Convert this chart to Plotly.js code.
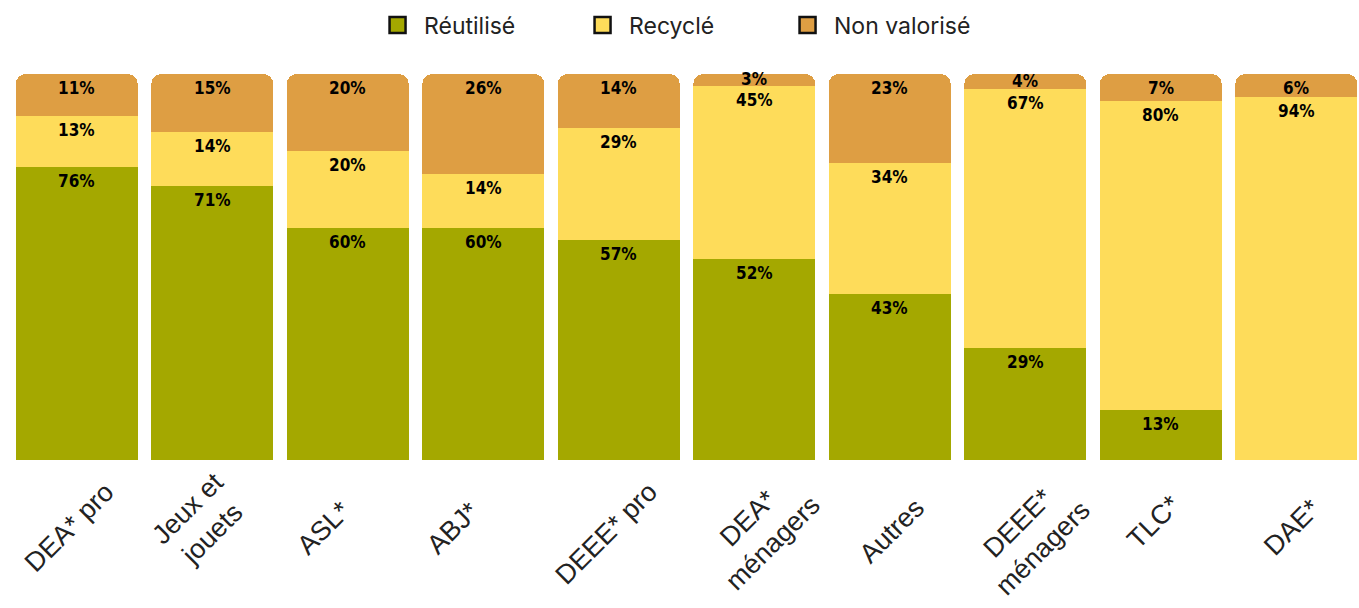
<!DOCTYPE html>
<html>
<head>
<meta charset="utf-8">
<script src="https://cdn.plot.ly/plotly-3.0.1.min.js"></script>
<style>
  html, body { margin: 0; padding: 0; background: #ffffff; }
  #chart { width: 1359px; height: 608px; }
</style>
</head>
<body>
<div id="chart"></div>
<script>
// ---- Data ----
var categories = ['DEA* pro', 'Jeux et jouets', 'ASL*', 'ABJ*', 'DEEE* pro', 'DEA* ménagers', 'Autres', 'DEEE* ménagers', 'TLC*', 'DAE*'];
var tickLabels = ['DEA* pro', 'Jeux et<br>jouets', 'ASL*', 'ABJ*', 'DEEE* pro', 'DEA*<br>ménagers', 'Autres', 'DEEE*<br>ménagers', 'TLC*', 'DAE*'];
var reutilise   = [76, 71, 60, 60, 57, 52, 43, 29, 13, 0];
var recycle     = [13, 14, 20, 14, 29, 45, 34, 67, 80, 94];
var nonValorise = [11, 15, 20, 26, 14, 3, 23, 4, 7, 6];
var seriesNames = ['Réutilisé', 'Recyclé', 'Non valorisé'];

// ---- Styles / layout tweaks ----
var colors = ['#A4A800', '#FEDC5A', '#DE9E43'];
var labelShiftX = [-7, -12, -24, -30, -12, 6, 2, 5, -7, -4];
var labelShiftY = [0, 7, -1, -1, -6, -3, -4, -8, 5, 0];

var idx = categories.map(function (c, i) { return i; });
var series = [reutilise, recycle, nonValorise];

var barTraces = series.map(function (vals, k) {
  return {
    type: 'bar',
    x: idx,
    y: vals,
    name: seriesNames[k],
    showlegend: false,
    marker: { color: colors[k], line: { width: 0 } },
    hoverinfo: 'skip'
  };
});

var legendTraces = seriesNames.map(function (n, k) {
  return {
    type: 'scatter',
    mode: 'markers',
    x: [null], y: [null],
    name: '\u00A0' + n,
    marker: { symbol: 'square', size: 16, color: colors[k], line: { color: '#111111', width: 2.5 } },
    hoverinfo: 'skip'
  };
});

var valueFont = { family: 'DejaVu Sans Condensed', size: 17, color: '#000000', weight: 'bold' };

// value labels at the top of each stacked segment (positioned via the y scale)
var valueAnnotations = [];
idx.forEach(function (i) {
  var base = 0;
  series.forEach(function (vals, k) {
    var v = vals[i];
    var top = base + v;
    if (v > 0) {
      var small = v < 5;
      valueAnnotations.push({
        xref: 'x', yref: 'y',
        x: i, y: small ? base + v / 2 : top,
        yanchor: small ? 'middle' : 'top',
        yshift: small ? 1 : -2,
        text: v + '%',
        showarrow: false,
        font: valueFont
      });
    }
    base = top;
  });
});

var tickAnnotations = idx.map(function (i) {
  return {
    xref: 'x', yref: 'paper',
    x: i, y: -0.174,
    xshift: labelShiftX[i], yshift: labelShiftY[i],
    text: tickLabels[i],
    showarrow: false,
    textangle: -45,
    align: 'center',
    xanchor: 'center', yanchor: 'middle',
    font: { family: 'Liberation Sans, Arial, sans-serif', size: 27, color: '#222222' }
  };
});

var layout = {
  width: 1359, height: 608,
  margin: { l: 9, r: 0, t: 74, b: 148, pad: 0 },
  paper_bgcolor: '#ffffff', plot_bgcolor: '#ffffff',
  barmode: 'stack',
  bargap: 0.1,
  barcornerradius: 10,
  xaxis: {
    range: [-0.5, -0.5 + 1350 / 135.5],
    showticklabels: false, showgrid: false, zeroline: false, showline: false, ticks: '',
    fixedrange: true
  },
  yaxis: {
    range: [0, 100],
    visible: false, showgrid: false, zeroline: false, fixedrange: true
  },
  showlegend: true,
  legend: {
    orientation: 'h',
    traceorder: 'normal',
    x: 0.273, xanchor: 'left',
    y: 1.127, yanchor: 'middle',
    font: { family: 'Inter, sans-serif', size: 23, color: '#222222' },
    entrywidth: 160, entrywidthmode: 'pixels',
    bgcolor: 'rgba(0,0,0,0)'
  },
  annotations: valueAnnotations.concat(tickAnnotations),
  hovermode: false
};

Plotly.newPlot('chart', barTraces.concat(legendTraces), layout, { displayModeBar: false, staticPlot: true });
</script>
</body>
</html>
